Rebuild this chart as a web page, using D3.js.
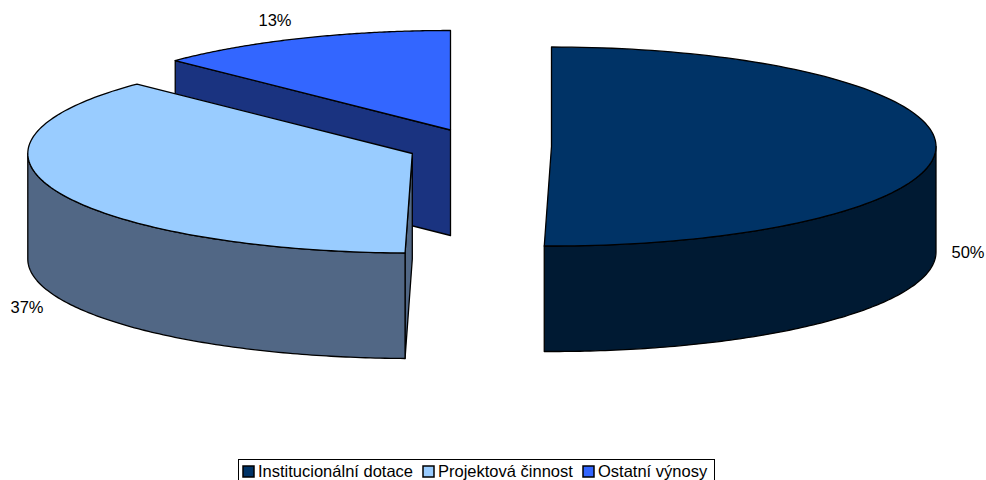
<!DOCTYPE html>
<html><head><meta charset="utf-8">
<script src="https://cdn.jsdelivr.net/npm/d3@7"></script>
<style>html,body{margin:0;padding:0;background:#fff}svg{display:block}text{font-family:"Liberation Sans",Arial,sans-serif;fill:#000}</style>
</head><body><svg id="c" width="986" height="480"></svg>
<script>
const categories=["Institucionální dotace","Projektová činnost","Ostatní výnosy"];
const values=[50.3,37.0,12.7];
const pctLabels=["50%","37%","13%"];
const topColors=["#003366","#99CCFF","#3366FF"];
const wallColors=["#001A33","#516785","#1A3380"];
const centers=[[551.5,146.5],[412.3,153.5],[450.5,130]];
const labelPos=[[968,258],[27,312.5],[275,26]];
const RX=384.5,RY=99.5,DEPTH=105.5;

const svg=d3.select("#c");
const sx=d3.scaleLinear().domain([-1,1]).range([-RX,RX]);
const sy=d3.scaleLinear().domain([-1,1]).range([-RY,RY]);
const pts=(c,a,dy=0)=>[c[0]+sx(Math.sin(a)),c[1]-sy(Math.cos(a))+dy];
const arcs=d3.pie().sort(null)(values);
const line=d3.line();
const N=120;
const curve=(c,a0,a1,dy=0)=>d3.range(N+1).map(i=>pts(c,a0+(a1-a0)*i/N,dy));

function drawSlice(i){
  const a=arcs[i],c=centers[i],g=svg.append("g");
  const style=(s,f)=>s.attr("fill",f).attr("stroke","#000").attr("stroke-width",1.3).attr("stroke-linejoin","round");
  if(i>0){
    const p=pts(c,a.startAngle);
    style(g.append("path"),wallColors[i]).attr("d",line([[c[0],c[1]],p,[p[0],p[1]+DEPTH],[c[0],c[1]+DEPTH]])+"Z");
  }
  const w0=Math.max(a.startAngle,Math.PI/2),w1=Math.min(a.endAngle,Math.PI*1.5);
  if(w1>w0){
    const top=curve(c,w0,w1),bot=curve(c,w0,w1,DEPTH).reverse();
    style(g.append("path"),wallColors[i]).attr("d",line(top.concat(bot))+"Z");
  }
  style(g.append("path"),topColors[i]).attr("d",line([c].concat(curve(c,a.startAngle,a.endAngle)))+"Z");
}
[2,1,0].forEach(drawSlice);

svg.append("g").selectAll("text").data(pctLabels).join("text")
  .attr("x",(d,i)=>labelPos[i][0]).attr("y",(d,i)=>labelPos[i][1])
  .attr("text-anchor","middle").attr("font-size",16.5).text(d=>d);

const lg=svg.append("g");
lg.append("rect").attr("x",238.5).attr("y",459.5).attr("width",476).attr("height",22).attr("fill","#fff").attr("stroke","#000");
const legX=[243,423,583];
categories.forEach((t,i)=>{
  lg.append("rect").attr("x",legX[i]).attr("y",466).attr("width",11).attr("height",11).attr("fill",topColors[i]).attr("stroke","#000").attr("stroke-width",1.5);
  lg.append("text").attr("x",legX[i]+15).attr("y",477).attr("font-size",16.5).text(t);
});
</script></body></html>
